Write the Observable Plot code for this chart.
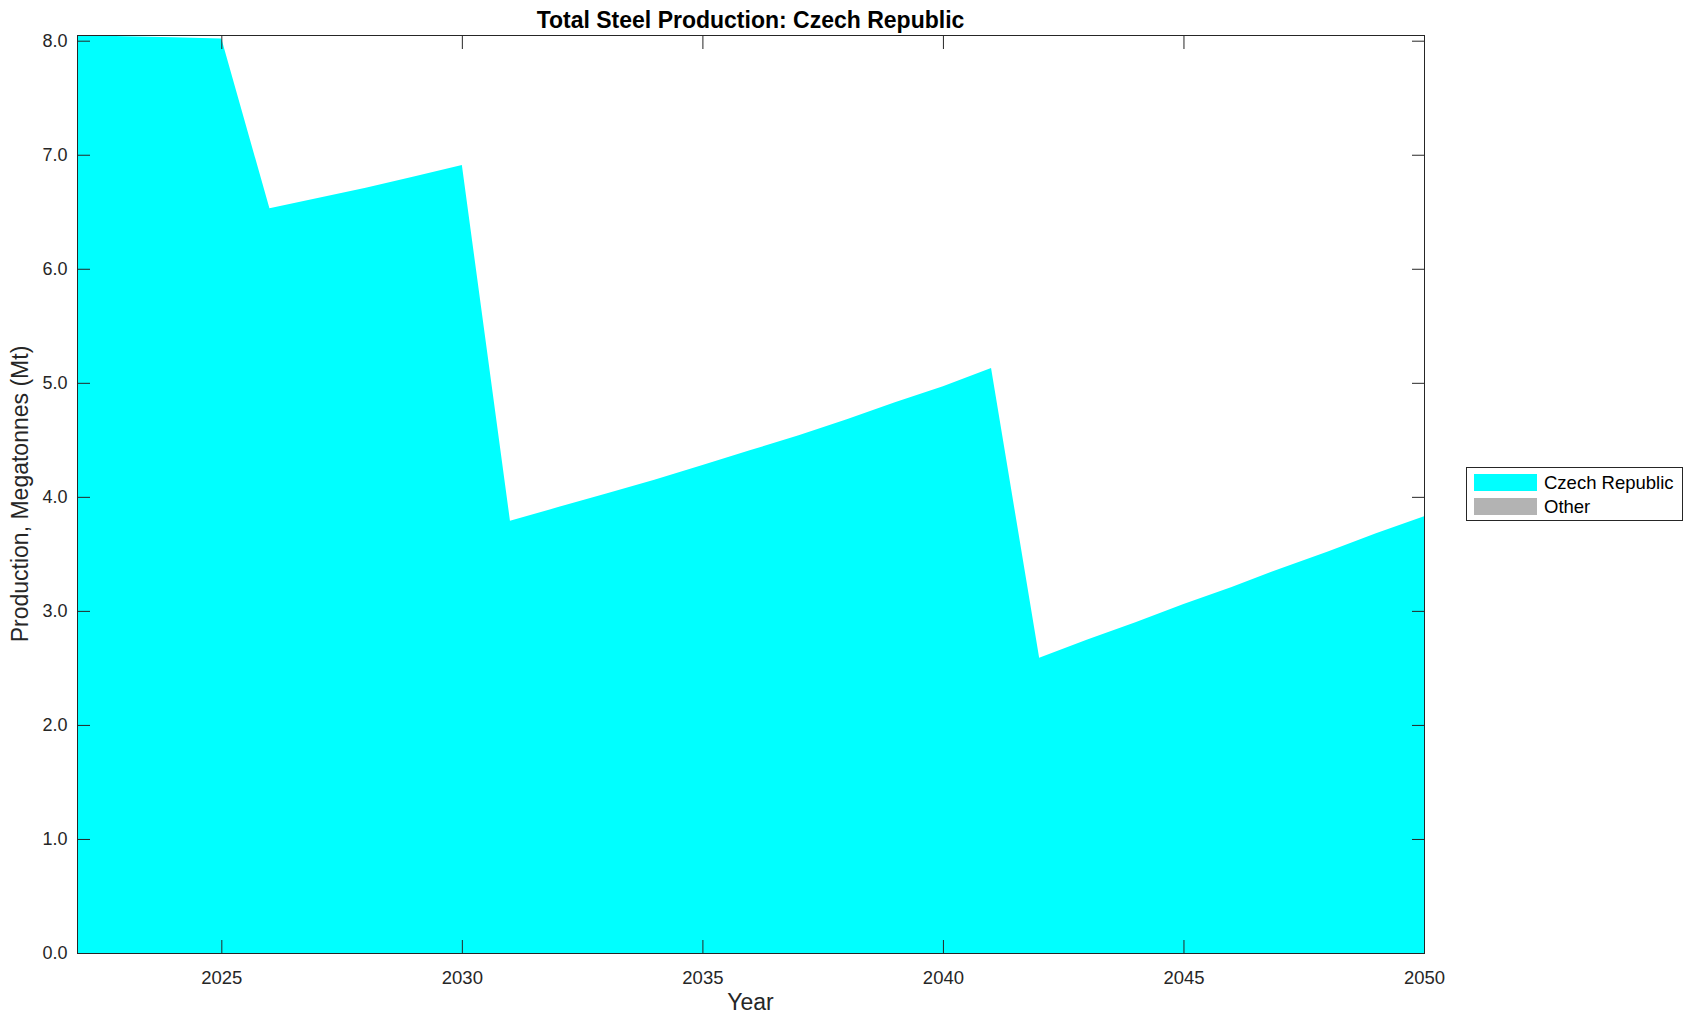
<!DOCTYPE html>
<html>
<head>
<meta charset="utf-8">
<script src="https://cdn.jsdelivr.net/npm/d3@7"></script>
<script src="https://cdn.jsdelivr.net/npm/@observablehq/plot@0.6"></script>
<style>
  html, body { margin: 0; padding: 0; background: #fff; }
  #wrap { position: relative; width: 1694px; height: 1021px; font-family: "Liberation Sans", Arial, Helvetica, sans-serif; color: #262626; }
  #title { position: absolute; left: 77px; width: 1347px; top: 7px; text-align: center; font-weight: bold; font-size: 23px; color: #000; line-height: 26px; }
  #ylab { position: absolute; left: 20px; top: 494px; transform: translate(-50%, -50%) rotate(-90deg); white-space: nowrap; font-size: 23px; line-height: 26px; }
  #xlab { position: absolute; left: 77px; width: 1347px; top: 989px; text-align: center; font-size: 23px; line-height: 26px; }
  #legend { position: absolute; left: 1466px; top: 467px; width: 215px; height: 52px; border: 1px solid #262626; background: #fff; }
  .item { position: absolute; left: 7px; height: 17px; display: flex; align-items: center; font-size: 18.5px; color: #000; white-space: nowrap; }
  .sw { width: 63px; height: 17px; margin-right: 7px; flex: none; }
</style>
</head>
<body>
<div id="wrap">
  <div id="chart"></div>
  <div id="title"></div>
  <div id="ylab"></div>
  <div id="xlab"></div>
  <div id="legend"></div>
</div>
<script>
const titleText = "Total Steel Production: Czech Republic";
const xLabel = "Year";
const yLabel = "Production, Megatonnes (Mt)";
const seriesNames = ["Czech Republic", "Other"];
const seriesColors = ["#00ffff", "#b3b3b3"];
const years = [2022, 2023, 2024, 2025, 2026, 2027, 2028, 2029, 2030, 2031, 2032, 2033, 2034, 2035, 2036, 2037, 2038, 2039, 2040, 2041, 2042, 2043, 2044, 2045, 2046, 2047, 2048, 2049, 2050];
const czech = [8.05, 8.04, 8.03, 8.02, 6.53, 6.62, 6.71, 6.81, 6.91, 3.79, 3.91, 4.03, 4.15, 4.28, 4.41, 4.54, 4.68, 4.83, 4.97, 5.13, 2.59, 2.75, 2.90, 3.06, 3.21, 3.37, 3.52, 3.68, 3.83];
const other = [0, 0, 0, 0, 0, 0, 0, 0, 0, 0, 0, 0, 0, 0, 0, 0, 0, 0, 0, 0, 0, 0, 0, 0, 0, 0, 0, 0, 0];
const xTicks = [2025, 2030, 2035, 2040, 2045, 2050];
const yTicks = [0, 1, 2, 3, 4, 5, 6, 7, 8];

const data = [];
years.forEach((yr, i) => {
  data.push({year: yr, series: seriesNames[0], value: czech[i]});
  data.push({year: yr, series: seriesNames[1], value: other[i]});
});
const totals = years.map((_, i) => czech[i] + other[i]);

const chart = Plot.plot({
  width: 1694,
  height: 1021,
  marginLeft: 77,
  marginRight: 270,
  marginTop: 35,
  marginBottom: 68,
  style: {fontFamily: '"Liberation Sans", Arial, Helvetica, sans-serif', fontSize: "18px", color: "#262626", background: "#fff"},
  x: {domain: [years[0], years[years.length - 1]]},
  y: {domain: [0, d3.max(totals)]},
  color: {domain: seriesNames, range: seriesColors},
  marks: [
    Plot.areaY(data, {x: "year", y: "value", fill: "series", order: seriesNames, curve: "linear"}),
    Plot.frame({stroke: "#262626", strokeWidth: 1}),
    Plot.axisX({anchor: "bottom", ticks: xTicks, tickSize: 0, tickPadding: 17, tickFormat: "d", fontSize: 18.5, label: null}),
    Plot.axisX({anchor: "bottom", ticks: xTicks, tickSize: -13, text: null, label: null}),
    Plot.axisX({anchor: "top", ticks: xTicks, tickSize: -13, text: null, label: null}),
    Plot.axisY({anchor: "left", ticks: yTicks, tickSize: 0, tickPadding: 10, tickFormat: ".1f", fontSize: 18, label: null}),
    Plot.axisY({anchor: "left", ticks: yTicks, tickSize: -13, text: null, label: null}),
    Plot.axisY({anchor: "right", ticks: yTicks, tickSize: -13, text: null, label: null})
  ]
});
document.getElementById("chart").appendChild(chart);
document.getElementById("title").textContent = titleText;
document.getElementById("xlab").textContent = xLabel;
document.getElementById("ylab").textContent = yLabel;
const legend = document.getElementById("legend");
seriesNames.forEach((name, i) => {
  const item = document.createElement("div");
  item.className = "item";
  item.style.top = (6 + i * 24) + "px";
  const sw = document.createElement("div");
  sw.className = "sw";
  sw.style.background = seriesColors[i];
  const label = document.createElement("span");
  label.textContent = name;
  item.appendChild(sw);
  item.appendChild(label);
  legend.appendChild(item);
});
</script>
</body>
</html>
